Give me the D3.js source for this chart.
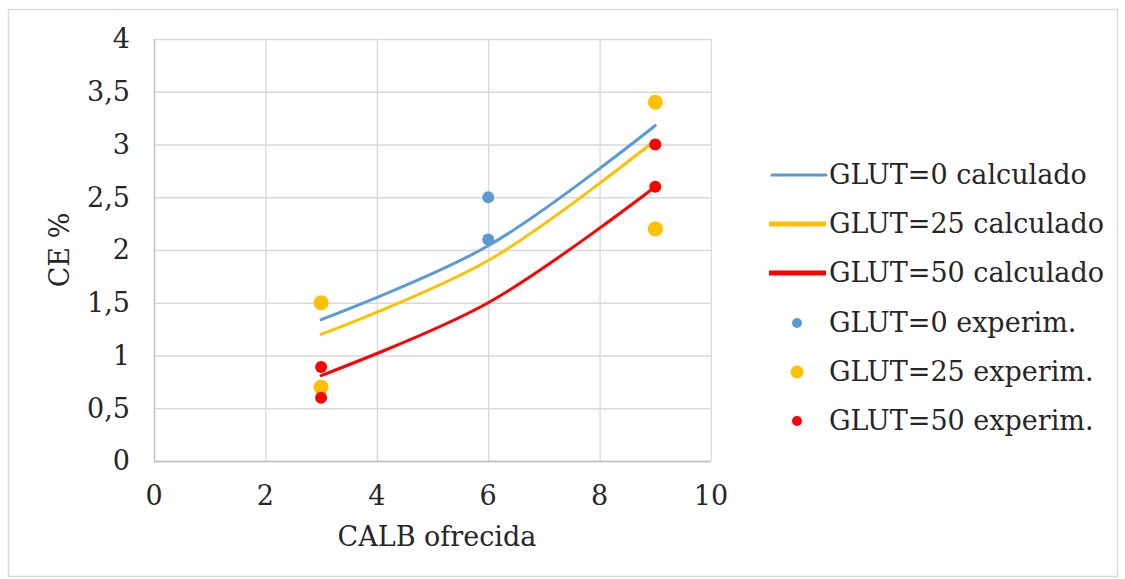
<!DOCTYPE html>
<html><head><meta charset="utf-8">
<script src="https://cdn.jsdelivr.net/npm/d3@7"></script>
<style>body{margin:0;background:#fff;} svg{display:block;}</style>
</head><body>
<svg id="c" width="1125" height="579"></svg>
<script>
// Data
const xCalc = [3, 6, 9];
const calc0 = [1.34, 2.04, 3.18];
const calc25 = [1.20, 1.90, 3.04];
const calc50 = [0.81, 1.50, 2.60];
const exp0x = [6, 6];
const exp0y = [2.5, 2.1];
const exp25x = [3, 3, 9, 9];
const exp25y = [1.5, 0.7, 3.4, 2.2];
const exp50x = [3, 3, 9, 9];
const exp50y = [0.89, 0.6, 3.0, 2.6];
const xTicks = [0, 2, 4, 6, 8, 10];
const yTicks = [0, 0.5, 1, 1.5, 2, 2.5, 3, 3.5, 4];
const legendLabels = ["GLUT=0 calculado","GLUT=25 calculado","GLUT=50 calculado","GLUT=0 experim.","GLUT=25 experim.","GLUT=50 experim."];

const colors = {c0:"#5B9BD5", c25:"#FFC000", c50:"#FF0000"};
const font = "'DejaVu Serif', serif";
const fs = 27;
const txt = "#262626";

const svg = d3.select("#c");
svg.append("rect").attr("x",8.5).attr("y",9.5).attr("width",1109).attr("height",567)
  .attr("fill","#fff").attr("stroke","#d9d9d9").attr("stroke-width",1.5);

const L=154, R=711, T=39, B=461;
const x = d3.scaleLinear().domain([0,10]).range([L,R]);
const y = d3.scaleLinear().domain([0,4]).range([B,T]);

// grid
const g = svg.append("g");
g.selectAll(".gy").data(yTicks).join("line")
  .attr("x1",L).attr("x2",R).attr("y1",d=>y(d)+0.5).attr("y2",d=>y(d)+0.5)
  .attr("stroke","#d9d9d9").attr("stroke-width",1.3);
g.selectAll(".gx").data(xTicks).join("line")
  .attr("y1",T).attr("y2",B).attr("x1",d=>x(d)+0.5).attr("x2",d=>x(d)+0.5)
  .attr("stroke","#d9d9d9").attr("stroke-width",1.3);
g.append("line").attr("x1",L).attr("x2",R).attr("y1",B+0.5).attr("y2",B+0.5).attr("stroke","#bfbfbf").attr("stroke-width",1.3);
g.append("line").attr("x1",L+0.5).attr("x2",L+0.5).attr("y1",T).attr("y2",B).attr("stroke","#bfbfbf").attr("stroke-width",1.3);

// tick labels
svg.selectAll(".yt").data(yTicks).join("text")
  .attr("x",130).attr("y",d=>y(d)).attr("dy","0.35em").attr("text-anchor","end")
  .attr("font-family",font).attr("font-size",fs).attr("fill",txt)
  .text(d=>String(d).replace(".",","));
svg.selectAll(".xt").data(xTicks).join("text")
  .attr("x",d=>x(d)).attr("y",496).attr("dy","0.35em").attr("text-anchor","middle")
  .attr("font-family",font).attr("font-size",fs).attr("fill",txt)
  .text(d=>d);

// axis titles
svg.append("text").attr("transform","translate(60,250) rotate(-90)").attr("dy","0.35em")
  .attr("text-anchor","middle").attr("font-family",font).attr("font-size",fs).attr("fill",txt).text("CE %");
svg.append("text").attr("x",437).attr("y",537).attr("dy","0.35em")
  .attr("text-anchor","middle").attr("font-family",font).attr("font-size",fs).attr("fill",txt).text("CALB ofrecida");

// lines
const line = d3.line().x(d=>x(d[0])).y(d=>y(d[1])).curve(d3.curveCatmullRom.alpha(0.5));
const series = [[calc0,colors.c0],[calc25,colors.c25],[calc50,colors.c50]];
series.forEach(([vals,col])=>{
  svg.append("path").datum(xCalc.map((xv,i)=>[xv,vals[i]]))
    .attr("d",line).attr("fill","none").attr("stroke",col).attr("stroke-width",3).attr("stroke-linecap","round");
});

// points
function pts(xs, ys, col, r){
  svg.append("g").selectAll("circle").data(xs.map((xv,i)=>[xv,ys[i]])).join("circle")
    .attr("cx",d=>x(d[0])).attr("cy",d=>y(d[1])).attr("r",r).attr("fill",col);
}
pts(exp0x, exp0y, colors.c0, 6);
pts(exp25x, exp25y, colors.c25, 7.5);
pts(exp50x, exp50y, colors.c50, 6);

// legend
const rowY = [175, 224, 273, 323, 372, 421];
const lg = svg.append("g");
const legCols = [colors.c0, colors.c25, colors.c50, colors.c0, colors.c25, colors.c50];
const legW = [3, 5, 5];
const legR = [5, 6.5, 5];
legendLabels.forEach((lab,i)=>{
  if(i<3){
    lg.append("line").attr("x1", i===0?772:769).attr("x2",826).attr("y1",rowY[i]).attr("y2",rowY[i])
      .attr("stroke",legCols[i]).attr("stroke-width",legW[i]).attr("stroke-linecap", i===0?"round":"butt");
  } else {
    lg.append("circle").attr("cx",797).attr("cy",rowY[i]).attr("r",legR[i-3]).attr("fill",legCols[i]);
  }
  lg.append("text").attr("x",829).attr("y",rowY[i]).attr("dy","0.35em")
    .attr("font-family",font).attr("font-size",fs).attr("fill",txt).text(lab);
});
</script>
</body></html>
